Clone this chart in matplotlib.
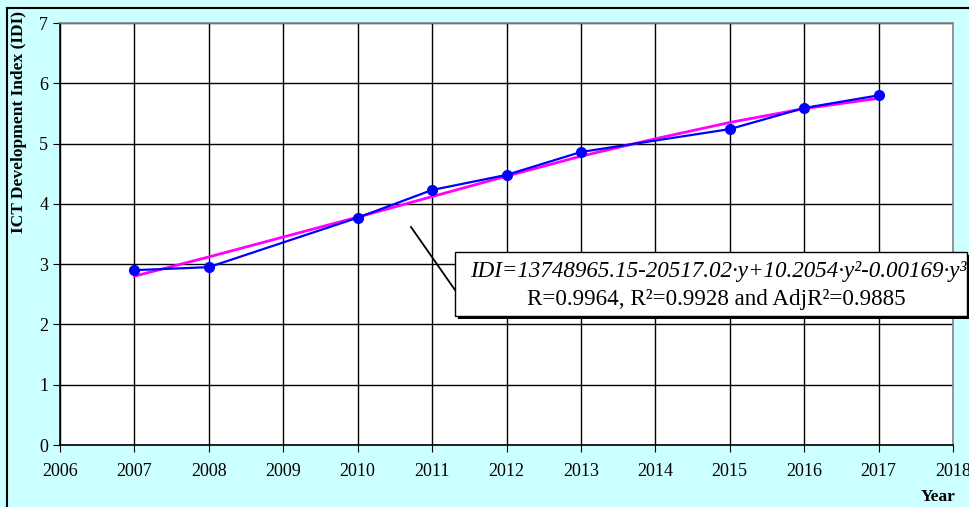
import numpy as np
import matplotlib.pyplot as plt
from matplotlib.patches import Rectangle

# ---------- data ----------
years = [2007, 2008, 2010, 2011, 2012, 2013, 2015, 2016, 2017]
idi = [2.90, 2.95, 3.77, 4.23, 4.48, 4.86, 5.24, 5.59, 5.80]

# fitted cubic
fit_years = [2007, 2008, 2009, 2010, 2011, 2012, 2013, 2014, 2015, 2016, 2017]
fit_idi = [2.80, 3.12, 3.45, 3.78, 4.12, 4.46, 4.79, 5.08, 5.35, 5.58, 5.75]

xticks = list(range(2006, 2019))
yticks = list(range(0, 8))

plt.rcParams['font.family'] = ['Liberation Serif', 'DejaVu Serif']

# ---------- plot ----------
W, H = 969, 507
fig = plt.figure(figsize=(W/100, H/100), dpi=100, facecolor='#ccffff')
ax = fig.add_axes([60/W, 1-445/H, (953-60)/W, (445-23)/H])
ax.set_facecolor('white')

# figure frame (left and top)
fig.add_artist(plt.Line2D([7/W, 7/W], [0, 1-8/H], color='black', lw=1.5, transform=fig.transFigure))
fig.add_artist(plt.Line2D([7/W, 1], [1-8/H, 1-8/H], color='black', lw=1.5, transform=fig.transFigure))

ax.plot(fit_years, fit_idi, color='#ff00ff', lw=2, zorder=3)
ax.plot(years, idi, color='#0000ff', lw=1.6, marker='o', ms=7, zorder=4)

ax.set_xlim(2006, 2018)
ax.set_ylim(0, 7)
ax.set_xticks(xticks)
ax.set_yticks(yticks)
ax.tick_params(labelsize=13, direction='out', length=5, color='black')
ax.tick_params(axis='x', pad=8)
ax.grid(True, color='black', lw=1)
ax.set_axisbelow(True)
for s in ['left', 'bottom']:
    ax.spines[s].set_color('black')
    ax.spines[s].set_linewidth(1.2)
for s in ['right', 'top']:
    ax.spines[s].set_color('#888888')
    ax.spines[s].set_linewidth(1.2)

fig.text(19/W, 1-122/H, 'ICT Development Index (IDI)', rotation=90, fontsize=12.5,
         fontweight='bold', ha='center', va='center')
fig.text(938/W, 1-497/H, 'Year', fontsize=12.5, fontweight='bold', ha='center', va='center')

# annotation box with shadow
x0, y0, x1, y1 = 455, 252, 967, 316
fig.add_artist(Rectangle(((x0+3)/W, 1-(y1+3)/H), (x1-x0)/W, (y1-y0)/H,
                         transform=fig.transFigure, facecolor='black', edgecolor='none', zorder=5))
fig.add_artist(Rectangle((x0/W, 1-y1/H), (x1-x0)/W, (y1-y0)/H,
                         transform=fig.transFigure, facecolor='white', edgecolor='black', lw=1, zorder=6))
fig.add_artist(plt.Line2D([411/W, 455/W], [1-227/H, 1-290/H], color='black', lw=1.3,
                          transform=fig.transFigure, zorder=6))
fig.text(718/W, 1-271/H,
         'IDI=13748965.15-20517.02\u00b7y+10.2054\u00b7y\u00b2-0.00169\u00b7y\u00b3',
         fontsize=16.6, style='italic', ha='center', va='center', zorder=7)
fig.text(716/W, 1-299/H, 'R=0.9964, R\u00b2=0.9928 and AdjR\u00b2=0.9885',
         fontsize=16.6, ha='center', va='center', zorder=7)

fig.savefig('out.png', dpi=100, facecolor=fig.get_facecolor())
